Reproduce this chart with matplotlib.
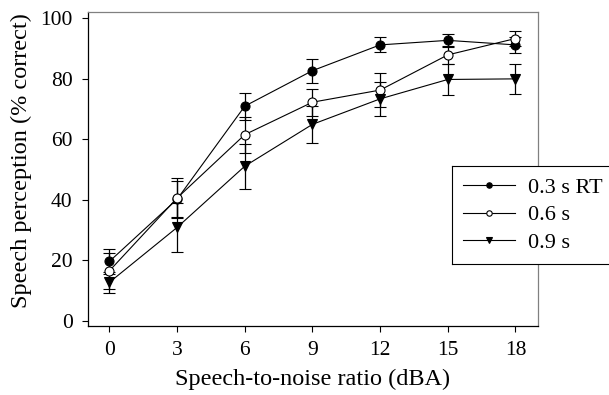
import matplotlib.pyplot as plt
from matplotlib.lines import Line2D
from matplotlib.patches import Rectangle

# speech-to-noise ratio (dBA)
snr = [0, 3, 6, 9, 12, 15, 18]

rt03 = [19.7, 40.2, 70.9, 82.6, 91.1, 92.6, 91.1]
rt03_err = [4.0, 6.0, 4.5, 3.9, 2.5, 2.1, 2.7]
rt06 = [16.6, 40.6, 61.5, 72.2, 76.2, 87.8, 93.2]
rt06_err = [6.0, 6.5, 5.9, 4.4, 5.5, 2.9, 2.4]
rt09 = [12.8, 30.9, 51.1, 64.9, 73.3, 79.7, 79.9]
rt09_err = [3.5, 8.2, 7.4, 6.1, 5.6, 5.2, 5.0]

labels = ['0.3 s RT', '0.6 s', '0.9 s']

plt.rcParams['font.family'] = ['Liberation Serif', 'DejaVu Serif']

fig = plt.figure(figsize=(6.09, 3.95), dpi=100)
ax = fig.add_axes([0.1445, 0.1747, 0.7389, 0.7953])

common = dict(color='black', linewidth=0.8, capsize=4.5, elinewidth=0.9,
              capthick=0.9, markersize=6.5, markeredgewidth=0.8)
ax.errorbar(snr, rt03, yerr=rt03_err, marker='o', markerfacecolor='black',
            label=labels[0], **common)
ax.errorbar(snr, rt06, yerr=rt06_err, marker='o', markerfacecolor='white',
            label=labels[1], **common)
ax.errorbar(snr, rt09, yerr=rt09_err, marker='v', markerfacecolor='black',
            label=labels[2], **common)

ax.set_xlim(-0.95, 19)
ax.set_ylim(-1.6, 102)
ax.set_xticks(snr)
ax.set_yticks([0, 20, 40, 60, 80, 100])
ax.tick_params(direction='out', length=4, width=0.8, labelsize=15.5)
ax.tick_params(axis='x', pad=7)
ax.tick_params(axis='y', pad=7)
for s in ['top', 'right']:
    ax.spines[s].set_color('#808080')
for s in ['left', 'bottom']:
    ax.spines[s].set_color('black')
for s in ax.spines.values():
    s.set_linewidth(0.9)

ax.set_xlabel('Speech-to-noise ratio (dBA)', fontsize=17.5, labelpad=6)
ax.set_ylabel('Speech perception (% correct)', fontsize=17.5)
ax.yaxis.set_label_coords(-0.125, 0.527)

handles, lbls = ax.get_legend_handles_labels()
handles = [h[0] for h in handles]
leg = fig.legend(handles, lbls, loc='upper left',
                 bbox_to_anchor=(0.7427, 0.5797), frameon=False,
                 fontsize=16, handlelength=2.3, handletextpad=0.6,
                 borderaxespad=0, markerscale=0.6, borderpad=0.5,
                 labelspacing=0.32)
leg.set_zorder(11)

# legend box runs off the right edge of the figure
fig.canvas.draw()
bb = leg.get_window_extent().transformed(fig.transFigure.inverted())
fig.add_artist(Rectangle((bb.x0, bb.y0), 1.2 - bb.x0, bb.height,
                         transform=fig.transFigure, facecolor='white',
                         edgecolor='none', zorder=9))
for xs, ys in [([bb.x0, bb.x0], [bb.y0, bb.y1]),
               ([bb.x0, 1.2], [bb.y1, bb.y1]),
               ([bb.x0, 1.2], [bb.y0, bb.y0])]:
    fig.add_artist(Line2D(xs, ys, color='black', linewidth=0.8,
                          transform=fig.transFigure, zorder=10))

fig.savefig('out.png', dpi=100)
